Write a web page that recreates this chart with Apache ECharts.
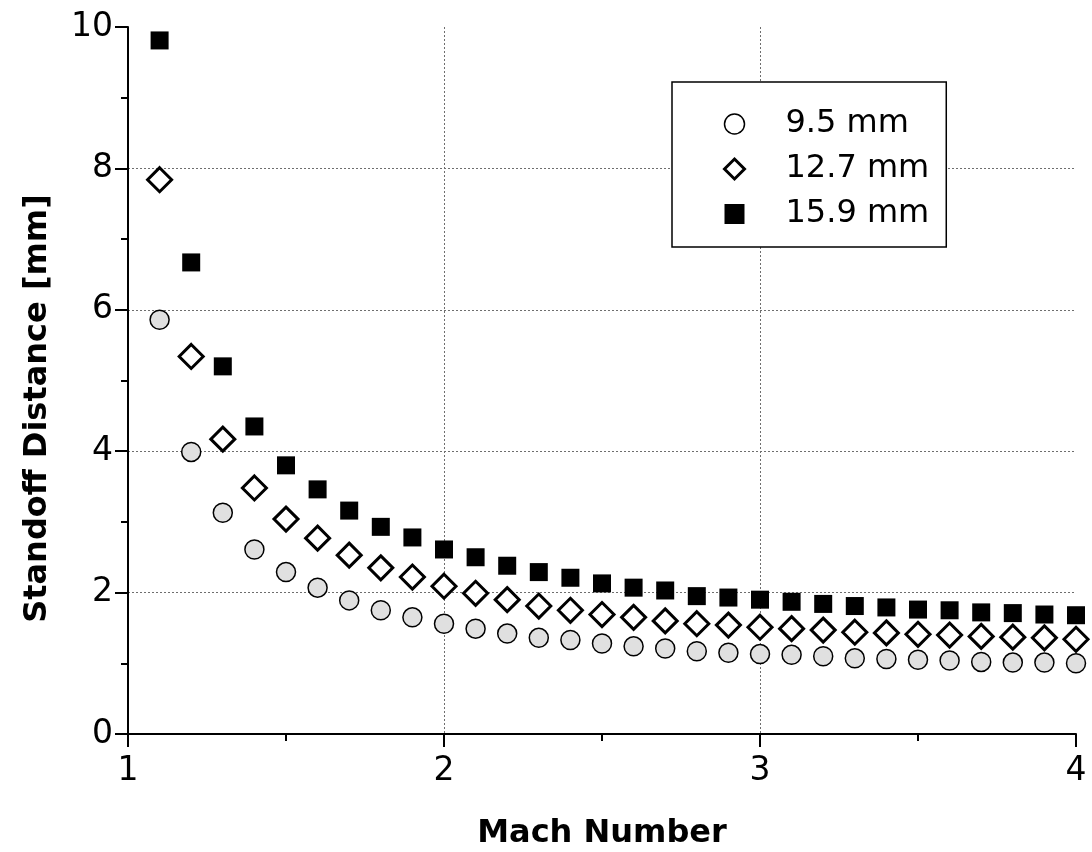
<!DOCTYPE html>
<html>
<head>
<meta charset="utf-8">
<script src="https://cdn.jsdelivr.net/npm/echarts@6/dist/echarts.min.js"></script>
<style>
  html, body { margin: 0; padding: 0; background: #fff; }
  #chart { width: 1092px; height: 852px; }
</style>
</head>
<body>
<div id="chart"></div>
<script>
// Mach numbers of the measurements
const machNumbers = [1.1, 1.2, 1.3, 1.4, 1.5, 1.6, 1.7, 1.8, 1.9, 2.0,
                     2.1, 2.2, 2.3, 2.4, 2.5, 2.6, 2.7, 2.8, 2.9, 3.0,
                     3.1, 3.2, 3.3, 3.4, 3.5, 3.6, 3.7, 3.8, 3.9, 4.0];

// Shock standoff distance [mm] per body diameter
const standoff9p5 = [5.86, 3.99, 3.13, 2.61, 2.29, 2.07, 1.89, 1.75, 1.65, 1.56,
                     1.49, 1.42, 1.36, 1.33, 1.28, 1.24, 1.21, 1.17, 1.15, 1.13,
                     1.12, 1.10, 1.07, 1.06, 1.05, 1.04, 1.02, 1.01, 1.01, 1.00];
const standoff12p7 = [7.84, 5.34, 4.17, 3.48, 3.04, 2.77, 2.53, 2.35, 2.22, 2.09,
                      1.99, 1.90, 1.81, 1.75, 1.69, 1.65, 1.60, 1.56, 1.54, 1.51,
                      1.49, 1.47, 1.44, 1.43, 1.41, 1.40, 1.38, 1.37, 1.36, 1.34];
const standoff15p9 = [9.81, 6.67, 5.20, 4.35, 3.80, 3.46, 3.16, 2.93, 2.78, 2.61,
                      2.50, 2.38, 2.29, 2.21, 2.13, 2.07, 2.03, 1.95, 1.93, 1.90,
                      1.87, 1.84, 1.81, 1.79, 1.76, 1.75, 1.72, 1.71, 1.69, 1.68];

const seriesNames = ['9.5 mm', '12.7 mm', '15.9 mm'];
const xTicks = { min: 1, max: 4, interval: 1 };
const yTicks = { min: 0, max: 10, interval: 2 };

const FONT = "'DejaVu Sans', Verdana, sans-serif";

function pairs(ys) {
  return machNumbers.map((m, i) => [m, ys[i]]);
}

function axisCommon() {
  return {
    type: 'value',
    axisLine: { show: true, lineStyle: { color: '#000', width: 2 } },
    axisTick: { show: true, inside: false, length: 13, lineStyle: { color: '#000', width: 2 } },
    minorTick: { show: true, splitNumber: 2, length: 7, lineStyle: { color: '#000', width: 2 } },
    splitLine: { show: true, showMinLine: false, showMaxLine: false,
                 lineStyle: { color: '#6e6e6e', width: 1, type: [2, 2] } }
  };
}

const chart = echarts.init(document.getElementById('chart'), null, { renderer: 'canvas' });

chart.setOption({
  backgroundColor: '#fff',
  animation: false,
  grid: { left: 128, right: 16, top: 27, bottom: 118, containLabel: false,
          outerBoundsMode: 'none' },
  xAxis: Object.assign(axisCommon(), {
    min: xTicks.min, max: xTicks.max, interval: xTicks.interval,
    name: 'Mach Number', nameLocation: 'middle', nameGap: 84,
    nameTextStyle: { fontFamily: FONT, fontWeight: 'bold', fontSize: 32, color: '#000' },
    axisLabel: { fontFamily: FONT, fontSize: 33, color: '#000', margin: 21 }
  }),
  yAxis: Object.assign(axisCommon(), {
    min: yTicks.min, max: yTicks.max, interval: yTicks.interval,
    name: 'Standoff Distance [mm]', nameLocation: 'middle', nameGap: 74,
    nameTextStyle: { fontFamily: FONT, fontWeight: 'bold', fontSize: 32, color: '#000',
                     padding: [0, 56, 0, 0] },
    axisLabel: { fontFamily: FONT, fontSize: 33, color: '#000', margin: 15 }
  }),
  legend: {
    orient: 'vertical',
    left: 672, top: 82,
    padding: [26, 17, 17, 51],
    itemGap: 13,
    itemWidth: 20, itemHeight: 20,
    backgroundColor: '#fff',
    borderColor: '#000', borderWidth: 1.5,
    textStyle: { fontFamily: FONT, fontSize: 32, lineHeight: 32, color: '#000',
                 padding: [0, 0, 0, 36] },
    data: [
      { name: seriesNames[0], itemStyle: { color: '#fff', borderColor: '#000', borderWidth: 1.5 } },
      { name: seriesNames[1], itemStyle: { color: '#fff', borderColor: '#000', borderWidth: 3 } },
      { name: seriesNames[2], itemStyle: { color: '#000', borderWidth: 0 } }
    ]
  },
  series: [
    {
      name: seriesNames[0], type: 'scatter', clip: true,
      symbol: 'circle', symbolSize: 19,
      itemStyle: { color: '#e0e0e0', borderColor: '#000', borderWidth: 1.5, opacity: 1 },
      data: pairs(standoff9p5)
    },
    {
      name: seriesNames[1], type: 'scatter', clip: true,
      symbol: 'diamond', symbolSize: 24,
      itemStyle: { color: '#fff', borderColor: '#000', borderWidth: 3, opacity: 1 },
      data: pairs(standoff12p7)
    },
    {
      name: seriesNames[2], type: 'scatter', clip: true,
      symbol: 'rect', symbolSize: 18,
      itemStyle: { color: '#000', borderWidth: 0, opacity: 1 },
      data: pairs(standoff15p9)
    }
  ]
});
</script>
</body>
</html>
